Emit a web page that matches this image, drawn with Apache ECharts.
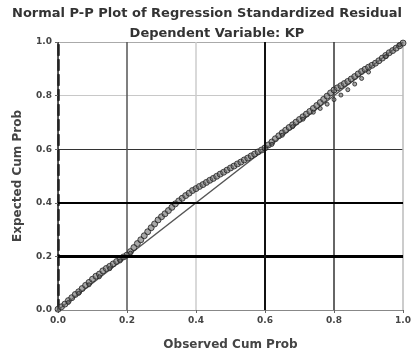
<!DOCTYPE html>
<html>
<head>
<meta charset="utf-8">
<script src="https://cdn.jsdelivr.net/npm/echarts@6/dist/echarts.min.js"></script>
<style>
  html, body { margin: 0; padding: 0; background: #fff; }
  #chart { width: 414px; height: 356px; }
</style>
</head>
<body>
<div id="chart"></div>
<script>
const titleLines = ['Normal P-P Plot of Regression Standardized Residual', 'Dependent Variable: KP']
const xAxisName = 'Observed Cum Prob'
const yAxisName = 'Expected Cum Prob'

// main band: observed cum prob (x) against expected cum prob (y)
const observed = [
  0.00, 0.01, 0.02, 0.03, 0.04, 0.05, 0.06, 0.07, 0.08, 0.09,
  0.10, 0.11, 0.12, 0.13, 0.14, 0.15, 0.16, 0.17, 0.18, 0.19,
  0.20, 0.21, 0.22, 0.23, 0.24, 0.25, 0.26, 0.27, 0.28, 0.29,
  0.30, 0.31, 0.32, 0.33, 0.34, 0.35, 0.36, 0.37, 0.38, 0.39,
  0.40, 0.41, 0.42, 0.43, 0.44, 0.45, 0.46, 0.47, 0.48, 0.49,
  0.50, 0.51, 0.52, 0.53, 0.54, 0.55, 0.56, 0.57, 0.58, 0.59,
  0.60, 0.61, 0.62, 0.63, 0.64, 0.65, 0.66, 0.67, 0.68, 0.69,
  0.70, 0.71, 0.72, 0.73, 0.74, 0.75, 0.76, 0.77, 0.78, 0.79,
  0.80, 0.81, 0.82, 0.83, 0.84, 0.85, 0.86, 0.87, 0.88, 0.89,
  0.90, 0.91, 0.92, 0.93, 0.94, 0.95, 0.96, 0.97, 0.98, 0.99,
  1.00
]
const expected = [
  0.003, 0.012, 0.022, 0.035, 0.046, 0.058, 0.068, 0.080, 0.092, 0.103,
  0.115, 0.126, 0.134, 0.146, 0.155, 0.163, 0.172, 0.181, 0.190, 0.198,
  0.205, 0.218, 0.233, 0.248, 0.262, 0.277, 0.292, 0.307, 0.321, 0.336,
  0.348, 0.359, 0.371, 0.383, 0.396, 0.407, 0.417, 0.427, 0.436, 0.446,
  0.453, 0.461, 0.468, 0.476, 0.484, 0.491, 0.499, 0.507, 0.514, 0.522,
  0.530, 0.537, 0.545, 0.552, 0.560, 0.567, 0.575, 0.582, 0.590, 0.597,
  0.605, 0.616, 0.627, 0.639, 0.650, 0.661, 0.671, 0.681, 0.691, 0.701,
  0.711, 0.721, 0.731, 0.741, 0.752, 0.763, 0.774, 0.786, 0.798, 0.810,
  0.821, 0.829, 0.837, 0.845, 0.853, 0.862, 0.871, 0.881, 0.890, 0.898,
  0.906, 0.913, 0.921, 0.930, 0.940, 0.950, 0.960, 0.968, 0.977, 0.986,
  0.996
]

// thinner lower strand, close to or just under the diagonal
const observedLow = [
  0.03, 0.06, 0.09, 0.12, 0.15, 0.18, 0.21, 0.62, 0.65, 0.68,
  0.71, 0.74, 0.76, 0.78, 0.80, 0.82, 0.84, 0.86, 0.88, 0.90,
  0.95, 0.99
]
const expectedLow = [
  0.028, 0.062, 0.094, 0.124, 0.154, 0.183, 0.212, 0.618, 0.652, 0.684,
  0.712, 0.738, 0.752, 0.768, 0.785, 0.802, 0.822, 0.843, 0.864, 0.888,
  0.945, 0.990
]

const tickValues = [0, 0.2, 0.4, 0.6, 0.8, 1.0]
const diagonal = [[0, 0], [1, 1]]

const chart = echarts.init(document.getElementById('chart'))

const axisLabelFmt = (v) => v.toFixed(1)
const font = 'DejaVu Sans'

const option = {
  animation: false,
  title: [
    {
      text: titleLines[0],
      left: 'center',
      top: 2,
      textStyle: { fontSize: 13, fontWeight: 'bold', color: '#333', fontFamily: font }
    },
    {
      text: titleLines[1],
      left: 212,
      textAlign: 'center',
      top: 22,
      textStyle: { fontSize: 13, fontWeight: 'bold', color: '#333', fontFamily: font }
    }
  ],
  grid: { left: 58, right: 2, top: 42, bottom: 40 },
  xAxis: {
    type: 'value',
    min: 0,
    max: 1,
    interval: 0.2,
    name: xAxisName,
    nameLocation: 'middle',
    nameGap: 29,
    nameTextStyle: { fontSize: 12, fontWeight: 'bold', color: '#444', fontFamily: font },
    axisLine: { lineStyle: { color: '#888', width: 1 } },
    axisTick: { show: true, length: 3, lineStyle: { color: '#666' } },
    axisLabel: { fontSize: 9, fontWeight: 'bold', color: '#444', margin: 6, formatter: axisLabelFmt, fontFamily: font },
    splitLine: {
      show: true,
      lineStyle: { color: ['#222', '#555', '#ccc', '#111', '#333', '#bbb'], width: 1.5 }
    }
  },
  yAxis: {
    type: 'value',
    min: 0,
    max: 1,
    interval: 0.2,
    name: yAxisName,
    nameLocation: 'middle',
    nameGap: 34,
    nameTextStyle: { fontSize: 12, fontWeight: 'bold', color: '#444', fontFamily: font },
    axisLine: { show: true, lineStyle: { color: '#222', width: 2.5, type: 'dashed' } },
    axisTick: { show: true, length: 3, lineStyle: { color: '#666' } },
    axisLabel: { fontSize: 9, fontWeight: 'bold', color: '#444', margin: 6, formatter: axisLabelFmt, fontFamily: font },
    splitLine: {
      show: true,
      lineStyle: { color: ['#999', '#000', '#000', '#333', '#c8c8c8', '#aaa'], width: 1.2 }
    }
  },
  series: [
    {
      type: 'line',
      data: diagonal,
      symbol: 'none',
      lineStyle: { color: '#555', width: 1.5 },
      markLine: {
        silent: true,
        symbol: 'none',
        label: { show: false },
        data: [
          { yAxis: tickValues[1], lineStyle: { color: '#000', width: 3, type: 'solid' } },
          { yAxis: tickValues[2], lineStyle: { color: '#000', width: 2.2, type: 'solid' } },
          { xAxis: tickValues[3], lineStyle: { color: '#111', width: 2, type: 'solid' } }
        ]
      },
      z: 2
    },
    {
      type: 'scatter',
      data: observed.map((x, i) => [x, expected[i]]),
      symbolSize: 6,
      itemStyle: { color: 'rgba(110,110,110,0.75)', borderColor: '#222', borderWidth: 1 },
      z: 3
    },
    {
      type: 'scatter',
      data: observedLow.map((x, i) => [x, expectedLow[i]]),
      symbolSize: 4,
      itemStyle: { color: 'rgba(110,110,110,0.75)', borderColor: '#222', borderWidth: 1 },
      z: 3
    }
  ]
}

chart.setOption(option)
</script>
</body>
</html>
